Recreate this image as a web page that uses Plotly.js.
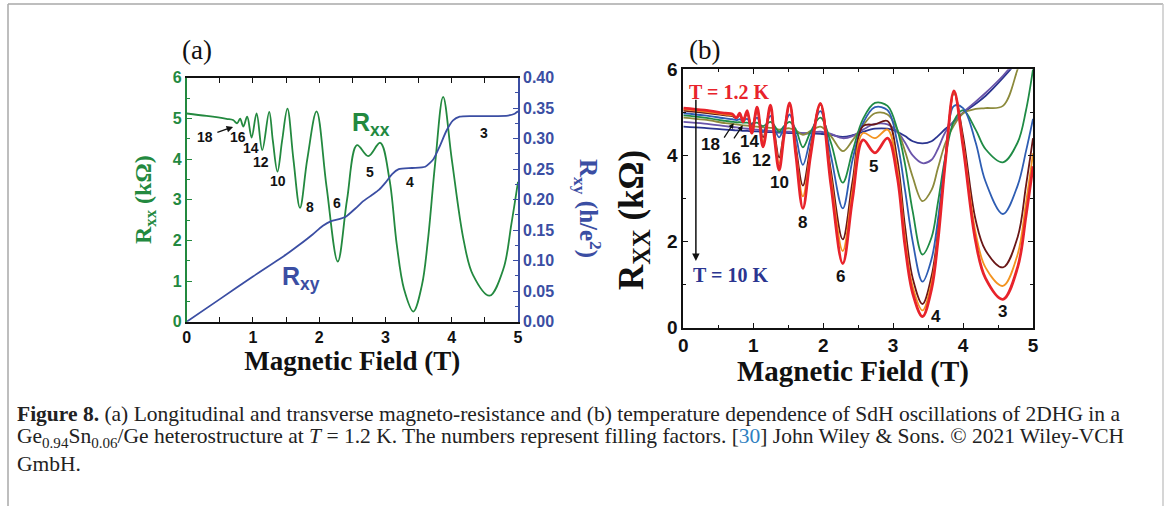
<!DOCTYPE html>
<html><head><meta charset="utf-8">
<script src="https://cdn.plot.ly/plotly-3.0.1.min.js"></script>
<style>html,body{margin:0;padding:0;background:#fff}#chart{width:1170px;height:506px}</style>
</head><body><div id="chart"></div>
<script>
// ---------- Panel (a): R_xx and R_xy at 1.2 K ----------
const fieldA = [0, 0.3, 0.6, 0.70, 0.76, 0.806, 0.855, 0.913, 0.98, 1.055, 1.14, 1.245, 1.30, 1.37, 1.44, 1.52, 1.61, 1.71, 1.82, 1.96, 2.11, 2.28, 2.42, 2.57, 2.74, 2.92, 3.06, 3.17, 3.28, 3.42, 3.55, 3.64, 3.75, 3.87, 4.00, 4.18, 4.32, 4.57, 4.78, 4.90, 5.0];
const rxxA = [5.12, 5.06, 4.99, 4.96, 4.88, 4.99, 4.80, 5.04, 4.53, 5.12, 4.22, 5.16, 4.45, 3.69, 4.45, 5.24, 4.00, 2.80, 4.00, 5.17, 3.33, 1.48, 3.00, 4.34, 4.07, 4.40, 3.50, 1.90, 0.80, 0.25, 0.90, 2.00, 3.90, 5.53, 4.00, 2.00, 1.15, 0.64, 1.30, 2.40, 3.44];
const fieldHall = [0, 0.5, 1.0, 1.5, 1.7, 1.9, 2.05, 2.18, 2.3, 2.4, 2.55, 2.67, 2.8, 2.9, 3.0, 3.1, 3.2, 3.4, 3.6, 3.72, 3.82, 3.92, 4.02, 4.12, 4.3, 4.6, 4.85, 4.95, 5.0];
const rxyA = [0, 0.037, 0.074, 0.110, 0.126, 0.143, 0.157, 0.165, 0.168, 0.172, 0.186, 0.198, 0.208, 0.216, 0.228, 0.242, 0.250, 0.252, 0.254, 0.266, 0.288, 0.313, 0.330, 0.336, 0.337, 0.337, 0.338, 0.341, 0.345];
const labelsA = ["18", "16", "14", "12", "10", "8", "6", "5", "4", "3"];
const labelA_B = [0.28, 0.775, 0.97, 1.12, 1.38, 1.86, 2.27, 2.77, 3.37, 4.48];
const labelA_R = [4.54, 4.54, 4.27, 3.93, 3.46, 2.82, 2.92, 3.68, 3.43, 4.64];

// ---------- Panel (b): temperature dependence of R_xx ----------
const fieldB = [0, 0.3, 0.6, 0.70, 0.76, 0.806, 0.855, 0.913, 0.98, 1.055, 1.14, 1.245, 1.30, 1.37, 1.44, 1.52, 1.61, 1.71, 1.82, 1.96, 2.11, 2.28, 2.42, 2.57, 2.74, 2.92, 3.06, 3.17, 3.28, 3.42, 3.55, 3.64, 3.75, 3.87, 4.00, 4.18, 4.32, 4.57, 4.78, 4.90, 5.0];
const rxxRed    = [5.10, 5.05, 4.98, 4.96, 4.87, 4.98, 4.78, 5.04, 4.52, 5.12, 4.20, 5.17, 4.45, 3.66, 4.45, 5.22, 4.00, 2.77, 4.00, 5.21, 3.33, 1.49, 3.00, 4.36, 4.06, 4.40, 3.50, 1.90, 0.80, 0.26, 0.90, 2.00, 3.90, 5.50, 4.20, 2.00, 1.15, 0.66, 1.40, 2.60, 3.75];
const rxxOrange = [5.07, 5.02, 4.95, 4.93, 4.88, 4.96, 4.83, 5.00, 4.60, 5.08, 4.32, 5.13, 4.50, 3.82, 4.50, 5.20, 4.10, 3.05, 4.10, 5.20, 3.50, 1.78, 3.20, 4.52, 4.40, 4.60, 3.70, 2.10, 0.95, 0.40, 1.05, 2.10, 3.90, 5.47, 4.30, 2.20, 1.40, 0.97, 1.70, 2.90, 4.05];
const rxxMaroon = [5.04, 4.99, 4.93, 4.91, 4.87, 4.93, 4.84, 4.96, 4.66, 5.03, 4.42, 5.08, 4.58, 3.95, 4.55, 5.17, 4.20, 3.30, 4.20, 5.18, 3.65, 2.05, 3.40, 4.68, 4.72, 4.80, 3.90, 2.35, 1.15, 0.55, 1.20, 2.20, 3.95, 5.45, 4.45, 2.50, 1.80, 1.40, 2.10, 3.30, 4.40];
const rxxBlue   = [4.98, 4.93, 4.86, 4.84, 4.82, 4.84, 4.80, 4.85, 4.72, 4.88, 4.55, 4.92, 4.65, 4.42, 4.65, 4.95, 4.45, 3.78, 4.40, 5.03, 4.00, 2.77, 3.90, 4.75, 5.12, 5.05, 4.30, 3.20, 2.00, 1.07, 1.60, 2.50, 4.00, 5.15, 5.10, 4.30, 3.40, 2.64, 3.30, 4.10, 4.85];
const rxxGreen  = [4.93, 4.88, 4.80, 4.78, 4.77, 4.77, 4.76, 4.76, 4.74, 4.76, 4.68, 4.78, 4.70, 4.55, 4.68, 4.78, 4.60, 4.19, 4.55, 4.88, 4.30, 3.37, 4.10, 4.85, 5.22, 5.15, 4.60, 3.80, 2.70, 1.70, 2.10, 2.90, 4.00, 4.80, 5.05, 4.60, 4.15, 3.84, 4.30, 5.05, 6.00];
const rxxOlive  = [4.88, 4.83, 4.75, 4.73, 4.72, 4.71, 4.70, 4.69, 4.68, 4.67, 4.65, 4.64, 4.63, 4.60, 4.62, 4.63, 4.58, 4.48, 4.57, 4.67, 4.45, 4.10, 4.35, 4.70, 4.98, 4.95, 4.60, 4.10, 3.50, 2.94, 3.20, 3.70, 4.30, 4.70, 4.98, 5.08, 5.10, 5.15, 6.00, 6.60, 7.00];
const rxxPurple = [4.78, 4.74, 4.68, 4.66, 4.65, 4.64, 4.63, 4.62, 4.61, 4.60, 4.58, 4.57, 4.56, 4.55, 4.55, 4.55, 4.54, 4.52, 4.53, 4.55, 4.50, 4.40, 4.45, 4.60, 4.73, 4.72, 4.55, 4.30, 4.00, 3.82, 3.90, 4.15, 4.55, 4.80, 5.00, 5.25, 5.45, 5.85, 6.25, 6.50, 6.70];
const rxxNavy   = [4.67, 4.64, 4.60, 4.59, 4.58, 4.58, 4.57, 4.57, 4.56, 4.56, 4.55, 4.54, 4.54, 4.53, 4.53, 4.52, 4.52, 4.51, 4.51, 4.50, 4.48, 4.43, 4.47, 4.55, 4.62, 4.62, 4.55, 4.45, 4.33, 4.28, 4.33, 4.45, 4.62, 4.78, 4.98, 5.20, 5.38, 5.80, 6.20, 6.50, 6.80];
const labelsB = ["18", "16", "14", "12", "10", "8", "6", "5", "4", "3"];
const labelB_B = [0.39, 0.69, 0.95, 1.12, 1.38, 1.71, 2.25, 2.72, 3.61, 4.57];
const labelB_R = [4.25, 3.94, 4.33, 3.89, 3.38, 2.45, 1.20, 3.75, 0.27, 0.38];

// ---------- styling ----------
const W = 1170, H = 506;
const px = v => v / W, py = v => 1 - v / H;
const GREEN = '#23893f', BLUE_A = '#3b4ea3';
const sans = 'Liberation Sans, Arial, sans-serif';
const serif = 'Liberation Serif, Times New Roman, serif';

const traces = [];
traces.push({x: fieldA, y: rxxA, xaxis: 'x', yaxis: 'y', mode: 'lines', name: 'R_xx',
  line: {color: GREEN, width: 1.8, shape: 'spline', smoothing: 1}});
traces.push({x: fieldHall, y: rxyA, xaxis: 'x', yaxis: 'y2', mode: 'lines', name: 'R_xy',
  line: {color: BLUE_A, width: 1.8, shape: 'spline', smoothing: 0.6}});

const curvesB = [
  {name: 'T = 10 K', y: rxxNavy, c: '#2b3590', w: 1.8},
  {name: 'curve 7', y: rxxPurple, c: '#6a55aa', w: 1.8},
  {name: 'curve 6', y: rxxOlive, c: '#8c8a3c', w: 1.8},
  {name: 'curve 5', y: rxxGreen, c: '#1f8b45', w: 1.8},
  {name: 'curve 4', y: rxxBlue, c: '#2e5db3', w: 1.8},
  {name: 'curve 3', y: rxxMaroon, c: '#6a1717', w: 1.8},
  {name: 'curve 2', y: rxxOrange, c: '#f39320', w: 1.8},
  {name: 'T = 1.2 K', y: rxxRed, c: '#e8232b', w: 2.8}
];
curvesB.forEach(cv => traces.push({x: fieldB, y: cv.y, xaxis: 'x2', yaxis: 'y3', mode: 'lines', name: cv.name,
  line: {color: cv.c, width: cv.w, shape: 'spline', smoothing: 1}}));

const ann = [];
const C = {xanchor: 'center', yanchor: 'middle', showarrow: false};
labelsA.forEach((t, i) => ann.push(Object.assign({xref: 'x', yref: 'y', x: labelA_B[i], y: labelA_R[i], text: t,
  font: {family: sans, size: 14, color: '#111', weight: 'bold'}}, C)));
labelsB.forEach((t, i) => ann.push(Object.assign({xref: 'x2', yref: 'y3', x: labelB_B[i], y: labelB_R[i], text: t,
  font: {family: sans, size: 17, color: '#111', weight: 'bold'}}, C)));
// arrow 18 -> oscillations in (a)
ann.push({xref: 'x', yref: 'y', axref: 'x', ayref: 'y', x: 0.70, y: 4.79, ax: 0.44, ay: 4.64, text: '', showarrow: true,
  arrowhead: 2, arrowsize: 1, arrowwidth: 1.3, arrowcolor: '#111'});
// panel (a) curve labels
ann.push(Object.assign({xref: 'x', yref: 'y', x: 2.78, y: 4.85, text: 'R<sub>xx</sub>',
  font: {family: sans, size: 25, color: GREEN, weight: 'bold'}}, C));
ann.push(Object.assign({xref: 'x', yref: 'y', x: 1.72, y: 1.08, text: 'R<sub>xy</sub>',
  font: {family: sans, size: 25, color: BLUE_A, weight: 'bold'}}, C));
// right title of (a), reads top-to-bottom
ann.push(Object.assign({xref: 'paper', yref: 'paper', x: px(588), y: py(208), text: 'R<sub>xy</sub> (h/e<sup>2</sup>)', textangle: 90,
  font: {family: serif, size: 25, color: BLUE_A, weight: 'bold'}}, C));
// y title of (b)
ann.push(Object.assign({xref: 'paper', yref: 'paper', x: px(634), y: py(220), text: 'R<sub>XX</sub> (kΩ)', textangle: -90,
  font: {family: serif, size: 35, color: '#111', weight: 'bold'}}, C));
// panel letters
ann.push(Object.assign({xref: 'paper', yref: 'paper', x: px(197), y: py(50), text: '(a)',
  font: {family: serif, size: 27, color: '#111'}}, C));
ann.push(Object.assign({xref: 'paper', yref: 'paper', x: px(704), y: py(50), text: '(b)',
  font: {family: serif, size: 27, color: '#111'}}, C));
// x title of (b)
ann.push(Object.assign({xref: 'paper', yref: 'paper', x: px(853), y: py(371), text: 'Magnetic Field (T)',
  font: {family: serif, size: 29, color: '#111', weight: 'bold'}}, C));
// panel (b) temperature labels and arrows
ann.push(Object.assign({xref: 'x2', yref: 'y3', x: 0.66, y: 5.47, text: 'T = 1.2 K',
  font: {family: serif, size: 20, color: '#e8232b', weight: 'bold'}}, C));
ann.push(Object.assign({xref: 'x2', yref: 'y3', x: 0.68, y: 1.22, text: 'T = 10 K',
  font: {family: serif, size: 20, color: '#2b3590', weight: 'bold'}}, C));
ann.push({xref: 'x2', yref: 'y3', axref: 'x2', ayref: 'y3', x: 0.18, y: 1.55, ax: 0.18, ay: 5.33, text: '', showarrow: true,
  arrowhead: 2, arrowsize: 1, arrowwidth: 1.5, arrowcolor: '#111'});
ann.push({xref: 'x2', yref: 'y3', axref: 'x2', ayref: 'y3', x: 0.72, y: 4.75, ax: 0.57, ay: 4.38, text: '', showarrow: true,
  arrowhead: 2, arrowsize: 0.8, arrowwidth: 1.3, arrowcolor: '#111'});
ann.push({xref: 'x2', yref: 'y3', axref: 'x2', ayref: 'y3', x: 0.85, y: 4.70, ax: 0.71, ay: 4.36, text: '', showarrow: true,
  arrowhead: 2, arrowsize: 0.8, arrowwidth: 1.3, arrowcolor: '#111'});

// caption
const capFont = {family: serif, size: 21.5, color: '#222'};
const caption = [
  '<b>Figure 8.</b> (a) Longitudinal and transverse magneto-resistance and (b) temperature dependence of SdH oscillations of 2DHG in a',
  'Ge<sub>0.94</sub>Sn<sub>0.06</sub>/Ge heterostructure at <i>T</i> = 1.2 K. The numbers represent filling factors. [<span style="color:#2f7fc1">30</span>] John Wiley &amp; Sons. © 2021 Wiley-VCH',
  'GmbH.'
];
const capY = [414, 437, 464];
caption.forEach((t, i) => ann.push({xref: 'paper', yref: 'paper', x: px(15), y: py(capY[i]), xanchor: 'left', yanchor: 'middle',
  text: t, showarrow: false, font: capFont}));

const shapes = [
  {type: 'line', xref: 'paper', yref: 'paper', x0: px(8), x1: px(1163), y0: py(4), y1: py(4), line: {color: '#a8a8a8', width: 1.5}},
  {type: 'line', xref: 'paper', yref: 'paper', x0: px(8), x1: px(8), y0: py(4), y1: 0, line: {color: '#a8a8a8', width: 1.5}},
  {type: 'line', xref: 'paper', yref: 'paper', x0: px(1163), x1: px(1163), y0: py(4), y1: 0, line: {color: '#c8c8c8', width: 1.5}}
];

const axBase = {showgrid: false, zeroline: false, showline: true, ticks: 'inside', tickwidth: 1.3, automargin: false};
const layout = {
  width: W, height: H, margin: {l: 0, r: 0, t: 0, b: 0}, paper_bgcolor: '#fff', plot_bgcolor: 'rgba(0,0,0,0)',
  showlegend: false,
  xaxis: Object.assign({}, axBase, {domain: [px(186.7), px(518)], anchor: 'y', range: [0, 5], dtick: 1, tick0: 0,
    linecolor: '#111', linewidth: 1.6, mirror: 'allticks', ticklen: 5, tickcolor: '#111',
    minor: {dtick: 0.5, ticks: 'inside', ticklen: 3, tickcolor: '#111'},
    tickfont: {family: sans, size: 16, color: '#111', weight: 'bold'},
    title: {text: 'Magnetic Field (T)', standoff: 6, font: {family: serif, size: 27, color: '#111', weight: 'bold'}}}),
  yaxis: Object.assign({}, axBase, {domain: [py(321.7), py(77.7)], anchor: 'x', range: [0, 6], dtick: 1,
    linecolor: GREEN, linewidth: 1.6, ticklen: 5, tickcolor: GREEN,
    minor: {dtick: 0.5, ticks: 'inside', ticklen: 3, tickcolor: GREEN},
    tickfont: {family: sans, size: 16, color: GREEN, weight: 'bold'},
    title: {text: 'R<sub>xx</sub> (kΩ)', standoff: 14, font: {family: serif, size: 24, color: GREEN, weight: 'bold'}}}),
  yaxis2: Object.assign({}, axBase, {overlaying: 'y', side: 'right', anchor: 'x', range: [0, 0.4], dtick: 0.05, tickformat: '.2f',
    linecolor: BLUE_A, linewidth: 1.6, ticklen: 5, tickcolor: BLUE_A,
    minor: {dtick: 0.025, ticks: 'inside', ticklen: 3, tickcolor: BLUE_A},
    tickfont: {family: sans, size: 16, color: BLUE_A, weight: 'bold'}}),
  xaxis2: Object.assign({}, axBase, {domain: [px(683.3), px(1033)], anchor: 'y3', range: [0, 5], dtick: 1, tick0: 0,
    linecolor: '#111', linewidth: 1.6, mirror: 'allticks', ticklen: 5, tickcolor: '#111',
    minor: {dtick: 0.5, ticks: 'inside', ticklen: 3, tickcolor: '#111'},
    tickfont: {family: sans, size: 19, color: '#111', weight: 'bold'}}),
  yaxis3: Object.assign({}, axBase, {domain: [py(327.7), py(69.3)], anchor: 'x2', range: [0, 6], dtick: 2,
    linecolor: '#111', linewidth: 1.6, mirror: 'allticks', ticklen: 5, tickcolor: '#111',
    minor: {dtick: 1, ticks: 'inside', ticklen: 3, tickcolor: '#111'},
    tickfont: {family: sans, size: 19, color: '#111', weight: 'bold'}}),
  annotations: ann,
  shapes: shapes
};
Plotly.newPlot('chart', traces, layout, {displayModeBar: false, responsive: false});
</script>
</body></html>
